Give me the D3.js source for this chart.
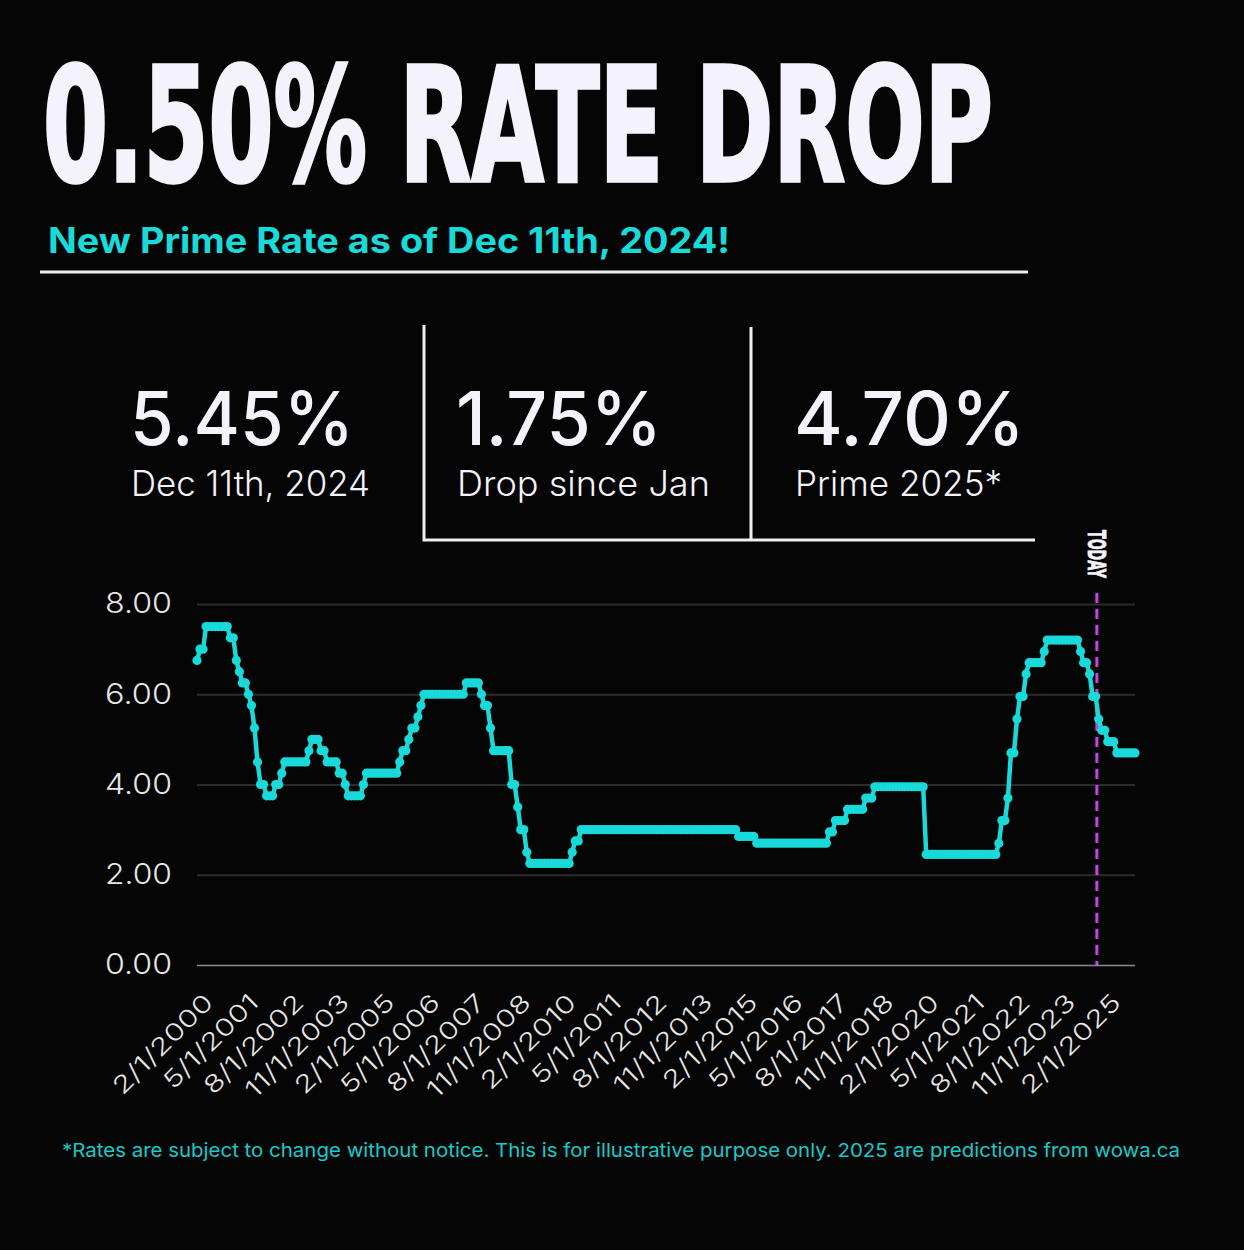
<!DOCTYPE html>
<html>
<head>
<meta charset="utf-8">
<script src="https://cdn.jsdelivr.net/npm/d3@7"></script>
<style>
  body { margin: 0; background: #050505; }
  svg { display: block; }
</style>
</head>
<body>
<div id="chart"></div>
<script>
// monthly prime rate (%), Feb 2000 .. Dec 2025 (2025 = forecast)
var rates = [
  // 2000 (Feb-Dec)
  6.75, 7.00, 7.00, 7.50, 7.50, 7.50, 7.50, 7.50, 7.50, 7.50, 7.50,
  // 2001
  7.25, 7.25, 6.75, 6.50, 6.25, 6.25, 6.00, 5.75, 5.25, 4.50, 4.00, 4.00,
  // 2002
  3.75, 3.75, 3.75, 4.00, 4.00, 4.25, 4.50, 4.50, 4.50, 4.50, 4.50, 4.50,
  // 2003
  4.50, 4.50, 4.75, 5.00, 5.00, 5.00, 4.75, 4.75, 4.50, 4.50, 4.50, 4.50,
  // 2004
  4.25, 4.25, 4.00, 3.75, 3.75, 3.75, 3.75, 3.75, 4.00, 4.25, 4.25, 4.25,
  // 2005
  4.25, 4.25, 4.25, 4.25, 4.25, 4.25, 4.25, 4.25, 4.50, 4.75, 4.75, 5.00,
  // 2006
  5.25, 5.25, 5.50, 5.75, 6.00, 6.00, 6.00, 6.00, 6.00, 6.00, 6.00, 6.00,
  // 2007
  6.00, 6.00, 6.00, 6.00, 6.00, 6.00, 6.25, 6.25, 6.25, 6.25, 6.25, 6.00,
  // 2008
  5.75, 5.75, 5.25, 4.75, 4.75, 4.75, 4.75, 4.75, 4.75, 4.00, 4.00, 3.50,
  // 2009
  3.00, 3.00, 2.50, 2.25, 2.25, 2.25, 2.25, 2.25, 2.25, 2.25, 2.25, 2.25,
  // 2010
  2.25, 2.25, 2.25, 2.25, 2.25, 2.50, 2.75, 2.75, 3.00, 3.00, 3.00, 3.00,
  // 2011
  3.00, 3.00, 3.00, 3.00, 3.00, 3.00, 3.00, 3.00, 3.00, 3.00, 3.00, 3.00,
  // 2012
  3.00, 3.00, 3.00, 3.00, 3.00, 3.00, 3.00, 3.00, 3.00, 3.00, 3.00, 3.00,
  // 2013
  3.00, 3.00, 3.00, 3.00, 3.00, 3.00, 3.00, 3.00, 3.00, 3.00, 3.00, 3.00,
  // 2014
  3.00, 3.00, 3.00, 3.00, 3.00, 3.00, 3.00, 3.00, 3.00, 3.00, 3.00, 3.00,
  // 2015
  2.85, 2.85, 2.85, 2.85, 2.85, 2.85, 2.70, 2.70, 2.70, 2.70, 2.70, 2.70,
  // 2016
  2.70, 2.70, 2.70, 2.70, 2.70, 2.70, 2.70, 2.70, 2.70, 2.70, 2.70, 2.70,
  // 2017
  2.70, 2.70, 2.70, 2.70, 2.70, 2.70, 2.95, 2.95, 3.20, 3.20, 3.20, 3.20,
  // 2018
  3.45, 3.45, 3.45, 3.45, 3.45, 3.45, 3.70, 3.70, 3.70, 3.95, 3.95, 3.95,
  // 2019
  3.95, 3.95, 3.95, 3.95, 3.95, 3.95, 3.95, 3.95, 3.95, 3.95, 3.95, 3.95,
  // 2020
  3.95, 3.95, 2.45, 2.45, 2.45, 2.45, 2.45, 2.45, 2.45, 2.45, 2.45, 2.45,
  // 2021
  2.45, 2.45, 2.45, 2.45, 2.45, 2.45, 2.45, 2.45, 2.45, 2.45, 2.45, 2.45,
  // 2022
  2.45, 2.45, 2.70, 3.20, 3.20, 3.70, 4.70, 4.70, 5.45, 5.95, 5.95, 6.45,
  // 2023
  6.70, 6.70, 6.70, 6.70, 6.70, 6.95, 7.20, 7.20, 7.20, 7.20, 7.20, 7.20,
  // 2024
  7.20, 7.20, 7.20, 7.20, 7.20, 6.95, 6.70, 6.70, 6.45, 5.95, 5.95, 5.45,
  // 2025
  5.20, 5.20, 4.95, 4.95, 4.95, 4.70, 4.70, 4.70, 4.70, 4.70, 4.70, 4.70
];

var xTickLabels = ["2/1/2000", "5/1/2001", "8/1/2002", "11/1/2003", "2/1/2005",
  "5/1/2006", "8/1/2007", "11/1/2008", "2/1/2010", "5/1/2011", "8/1/2012",
  "11/1/2013", "2/1/2015", "5/1/2016", "8/1/2017", "11/1/2018", "2/1/2020",
  "5/1/2021", "8/1/2022", "11/1/2023", "2/1/2025"];
var yTicks = [0, 2, 4, 6, 8];

var statValues = ["5.45%", "1.75%", "4.70%"];
var statLabels = ["Dec 11th, 2024", "Drop since Jan", "Prime 2025*"];

var title = "0.50% RATE DROP";
var subtitle = "New Prime Rate as of Dec 11th, 2024!";
var footnote = "*Rates are subject to change without notice. This is for illustrative purpose only. 2025 are predictions from wowa.ca";
var todayMonth = "12/1/2024";

// month categories, one per value
var fmt = d3.timeFormat("%-m/%-d/%Y");
var months = d3.timeMonth.range(new Date(2000, 1, 1), new Date(2026, 0, 1)).map(fmt);

var W = 1244, H = 1250;
var teal = "#19d9d9", white = "#f4f2fa";
var bodyFont = "Inter, 'Noto Sans', sans-serif";
var condFont = "'Liberation Sans Narrow', 'DejaVu Sans Condensed', 'Roboto', sans-serif";

var svg = d3.select("#chart")
  .append("svg")
    .attr("width", W)
    .attr("height", H);

svg.append("rect")
  .attr("width", W)
  .attr("height", H)
  .attr("fill", "#050505");

// title: smaller face stretched up, so it stays narrow and tall
svg.append("text")
  .attr("transform", "translate(43,181) scale(1,1.45)")
  .attr("font-family", condFont)
  .attr("font-weight", "bold")
  .attr("font-size", 110)
  .attr("fill", white)
  .attr("stroke", white)
  .attr("stroke-width", 2.5)
  .attr("textLength", 950)
  .attr("lengthAdjust", "spacingAndGlyphs")
  .text(title);

svg.append("text")
  .attr("x", 48)
  .attr("y", 253)
  .attr("font-family", bodyFont)
  .attr("font-weight", 700)
  .attr("font-size", 35)
  .attr("fill", teal)
  .attr("textLength", 682)
  .attr("lengthAdjust", "spacingAndGlyphs")
  .text(subtitle);

svg.append("line")
  .attr("x1", 40).attr("x2", 1028)
  .attr("y1", 272).attr("y2", 272)
  .attr("stroke", "#eeeeee")
  .attr("stroke-width", 3);

// stat boxes
var statX = [130, 456, 794];
var valueLen = [224, 206, 231];
var labelLen = [239, 253, 207];

svg.selectAll(".statValue")
  .data(statValues)
  .enter()
  .append("text")
    .attr("x", function(d, i) { return statX[i]; })
    .attr("y", 445)
    .attr("font-family", bodyFont)
    .attr("font-weight", 500)
    .attr("font-size", 74)
    .attr("fill", white)
    .attr("textLength", function(d, i) { return valueLen[i]; })
    .attr("lengthAdjust", "spacingAndGlyphs")
    .text(function(d) { return d; });

svg.selectAll(".statLabel")
  .data(statLabels)
  .enter()
  .append("text")
    .attr("x", function(d, i) { return statX[i] + 1; })
    .attr("y", 496)
    .attr("font-family", bodyFont)
    .attr("font-weight", 300)
    .attr("font-size", 35)
    .attr("fill", white)
    .attr("textLength", function(d, i) { return labelLen[i]; })
    .attr("lengthAdjust", "spacingAndGlyphs")
    .text(function(d) { return d; });

svg.append("path")
  .attr("d", "M424,325 V540 H1035 M751,327 V540")
  .attr("fill", "none")
  .attr("stroke", "#eeeeee")
  .attr("stroke-width", 3);

// scales
var x = d3.scalePoint()
  .domain(months)
  .range([197, 1135]);

var y = d3.scaleLinear()
  .domain([0, 8])
  .range([965, 604]);

// grid + y labels
var yAxis = svg.append("g")
  .attr("transform", "translate(197,0)")
  .call(d3.axisLeft(y)
    .tickValues(yTicks)
    .tickSize(-(1135 - 197))
    .tickPadding(25)
    .tickFormat(d3.format(".2f")));
yAxis.select(".domain").remove();
yAxis.selectAll("line")
  .attr("stroke", function(d) { return d === 0 ? "#8c8c8c" : "#2c2c2c"; })
  .attr("stroke-width", function(d) { return d === 0 ? 1.5 : 2; });
yAxis.selectAll("text")
  .attr("font-family", bodyFont)
  .attr("font-weight", 300)
  .attr("font-size", 28)
  .attr("fill", "#e6e6e6")
  .attr("textLength", 67)
  .attr("lengthAdjust", "spacingAndGlyphs");

// x labels (stretched a bit, the original face is wider)
var xAxis = svg.append("g")
  .attr("transform", "translate(0,965)")
  .call(d3.axisBottom(x).tickValues(xTickLabels).tickSize(0));
xAxis.select(".domain").remove();
xAxis.selectAll("text")
  .attr("x", 0)
  .attr("y", 0)
  .attr("dy", 0)
  .attr("transform", "translate(17,39) rotate(-45)")
  .style("text-anchor", "end")
  .attr("font-family", bodyFont)
  .attr("font-weight", 300)
  .attr("font-size", 24)
  .attr("fill", "#e6e6e6")
  .each(function() {
    var len = this.getComputedTextLength();
    d3.select(this)
      .attr("textLength", len * 1.3)
      .attr("lengthAdjust", "spacingAndGlyphs");
  });

// today marker
var tx = x(todayMonth) - 0.6 * x.step();
svg.append("line")
  .attr("x1", tx).attr("x2", tx)
  .attr("y1", 593).attr("y2", 965)
  .attr("stroke", "#c843e6")
  .attr("stroke-width", 3)
  .attr("stroke-dasharray", "10,6");

svg.append("text")
  .attr("transform", "translate(" + (tx - 9) + ",530) rotate(90)")
  .attr("font-family", condFont)
  .attr("font-weight", "bold")
  .attr("font-size", 25)
  .attr("fill", white)
  .attr("stroke", white)
  .attr("stroke-width", 0.8)
  .attr("textLength", 48)
  .attr("lengthAdjust", "spacingAndGlyphs")
  .text("TODAY");

// rate line
var line = d3.line()
  .x(function(d, i) { return x(months[i]); })
  .y(function(d) { return y(d); });

svg.append("path")
  .datum(rates)
  .attr("d", line)
  .attr("fill", "none")
  .attr("stroke", teal)
  .attr("stroke-width", 4.5)
  .attr("stroke-linejoin", "round");

svg.selectAll(".dot")
  .data(rates)
  .enter()
  .append("circle")
    .attr("cx", function(d, i) { return x(months[i]); })
    .attr("cy", function(d) { return y(d); })
    .attr("r", 4.6)
    .attr("fill", teal);

// footnote
svg.append("text")
  .attr("x", 62)
  .attr("y", 1157)
  .attr("font-family", bodyFont)
  .attr("font-weight", 400)
  .attr("font-size", 19)
  .attr("fill", "#1bc9c9")
  .attr("textLength", 1118)
  .attr("lengthAdjust", "spacingAndGlyphs")
  .text(footnote);
</script>
</body>
</html>
